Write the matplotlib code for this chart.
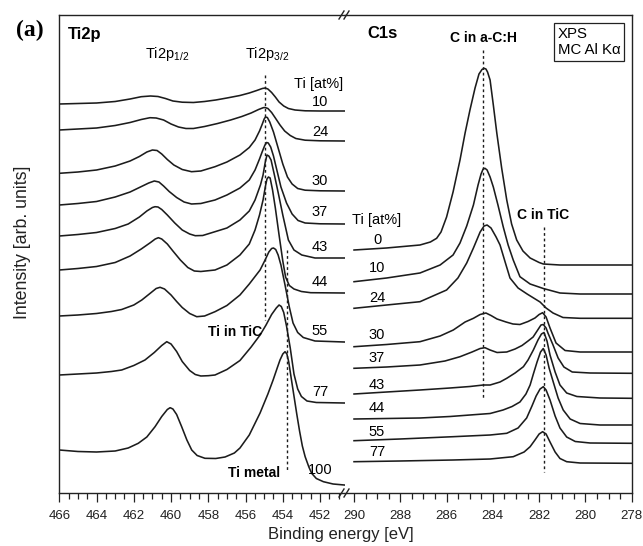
import matplotlib
matplotlib.use('Agg')
import matplotlib.pyplot as plt
from matplotlib.ticker import MultipleLocator

plt.rcParams['font.family'] = ['Liberation Sans', 'DejaVu Sans']
plt.rcParams['mathtext.fontset'] = 'custom'
plt.rcParams['mathtext.rm'] = 'Liberation Sans'
plt.rcParams['mathtext.bf'] = 'Liberation Sans:bold'

# ---------------- data: Ti2p spectra (binding energy eV, intensity arb. units) ----------------
ti_levels = ['10', '24', '30', '37', '43', '44', '55', '77', '100']

ti2p_10_ev = [466.0, 465.0, 464.0, 463.0, 462.2, 461.6, 461.1, 460.7, 460.3, 459.9, 459.4, 458.8, 458.2, 457.6, 457.0, 456.3, 455.8, 455.4, 455.1, 454.95, 454.8, 454.6, 454.4, 454.2, 453.95, 453.7, 453.34, 452.8, 452.0, 450.7]
ti2p_10_int = [389, 389.5, 390, 391.5, 394, 396.3, 397, 396.5, 394.5, 392, 390.8, 390.5, 391.5, 393, 395, 397.5, 400, 402.5, 404.5, 405, 404, 400.5, 396, 391, 387, 384.5, 383, 382.2, 382, 382]

ti2p_24_ev = [466.0, 465.0, 464.0, 463.0, 462.2, 461.6, 461.13, 460.8, 460.4, 460.0, 459.6, 459.2, 458.8, 458.2, 457.5, 456.8, 456.2, 455.7, 455.3, 455.05, 454.95, 454.8, 454.6, 454.4, 454.15, 453.9, 453.6, 453.3, 452.8, 452.0, 450.7]
ti2p_24_int = [363, 364, 365, 367.5, 370.5, 373.5, 375.3, 375, 373, 369, 366, 364.5, 364.5, 366.5, 369.5, 373, 376.5, 380, 383.5, 385.3, 385.5, 384.5, 380.5, 375, 368, 362, 357.5, 354.5, 352.8, 352.2, 352]

ti2p_30_ev = [466.0, 465.0, 464.0, 463.0, 462.2, 461.7, 461.3, 461.0, 460.75, 460.5, 460.2, 459.85, 459.4, 458.9, 458.4, 457.64, 457.0, 456.3, 455.8, 455.49, 455.25, 455.1, 455.0, 454.93, 454.83, 454.7, 454.5, 454.25, 454.0, 453.75, 453.5, 453.2, 452.8, 452.0, 450.7]
ti2p_30_int = [319.7, 321, 323, 327, 332, 336.5, 341, 343, 342.5, 339, 333.5, 328, 323.5, 321.3, 322, 326.3, 331, 338, 345.5, 353, 362, 369, 374, 376, 375.5, 371, 361, 345, 329, 316, 309, 304.5, 302.8, 302.2, 302]

ti2p_37_ev = [466.0, 465.0, 464.0, 463.0, 462.2, 461.7, 461.2, 460.9, 460.65, 460.4, 460.1, 459.7, 459.3, 458.9, 458.4, 457.64, 457.0, 456.3, 455.8, 455.49, 455.25, 455.1, 454.97, 454.87, 454.78, 454.65, 454.5, 454.32, 454.1, 453.8, 453.5, 453.18, 452.8, 452.0, 450.7]
ti2p_37_int = [288, 289.5, 291.5, 296, 301, 305.5, 310, 312, 311, 307, 301.5, 295.5, 291, 289, 289.5, 293, 298, 305, 313, 323, 334, 341.5, 347.5, 350.5, 350, 346, 337, 323, 306, 290, 279, 272.5, 270, 269.2, 269]

ti2p_43_ev = [466.0, 465.0, 464.0, 463.0, 462.3, 461.7, 461.3, 461.0, 460.86, 460.7, 460.5, 460.2, 459.8, 459.4, 459.0, 458.7, 458.3, 457.64, 457.0, 456.3, 455.8, 455.49, 455.2, 455.06, 454.95, 454.85, 454.75, 454.63, 454.45, 454.24, 454.0, 453.7, 453.4, 452.98, 452.27, 450.7]
ti2p_43_int = [257, 258.5, 260.5, 264.5, 269, 276, 282, 285.5, 286.3, 286, 283.5, 278, 270, 263, 259, 257.3, 257.5, 261.3, 265, 273, 282, 293, 308, 318, 330, 338, 337, 333, 318, 299.7, 278, 253, 243, 238, 235, 235]

ti2p_44_ev = [466.0, 465.0, 464.0, 463.0, 462.2, 461.6, 461.1, 460.85, 460.68, 460.5, 460.2, 459.9, 459.5, 459.1, 458.75, 458.4, 457.64, 457.0, 456.3, 455.8, 455.49, 455.25, 455.06, 454.93, 454.85, 454.77, 454.68, 454.55, 454.4, 454.2, 454.0, 453.85, 453.65, 453.4, 453.0, 452.5, 450.7]
ti2p_44_int = [223, 224.5, 226.5, 230.5, 237, 244, 250.5, 254, 255.3, 254, 249, 242, 233, 225.5, 222, 221.5, 223, 228, 238, 249, 263, 278, 293, 307, 314, 316, 315, 303, 285, 258, 232, 216, 207.5, 204, 201.5, 200.3, 200]

ti2p_55_ev = [466.0, 465.0, 464.0, 463.2, 462.65, 462.0, 461.57, 461.1, 460.8, 460.59, 460.35, 460.0, 459.7, 459.4, 459.0, 458.62, 458.2, 457.64, 457.0, 456.3, 455.8, 455.22, 454.95, 454.75, 454.6, 454.5, 454.38, 454.25, 454.1, 453.88, 453.65, 453.45, 453.2, 452.9, 452.27, 450.7]
ti2p_55_int = [177, 178, 179.5, 181.5, 183.5, 188, 193, 200, 204.5, 205.7, 204, 198, 191.5, 185.5, 179.5, 176.3, 177, 181.3, 187.5, 198, 209, 223, 233, 241, 244.5, 245, 243.5, 238, 228, 208, 186, 170, 160.5, 155.5, 152, 151]

ti2p_77_ev = [466.0, 465.0, 464.0, 463.2, 462.65, 462.0, 461.4, 460.9, 460.5, 460.23, 460.0, 459.7, 459.4, 459.0, 458.7, 458.4, 458.0, 457.64, 457.0, 456.3, 455.7, 455.22, 454.9, 454.6, 454.35, 454.2, 454.08, 453.95, 453.8, 453.6, 453.4, 453.2, 453.0, 452.7, 452.2, 450.7]
ti2p_77_int = [118, 119, 120, 121.5, 123, 127.5, 133, 140.5, 147.5, 151.3, 149, 141.5, 131.5, 122.5, 118.5, 117, 117.3, 118, 123.5, 132.5, 146, 158, 168, 178.5, 185, 188, 186.5, 180.5, 167, 145, 119, 104, 96.5, 92, 90.5, 90]

ti2p_100_ev = [466.0, 465.0, 464.0, 463.0, 462.3, 461.76, 461.3, 460.86, 460.5, 460.2, 460.05, 459.9, 459.7, 459.43, 459.15, 458.89, 458.6, 458.18, 457.6, 457.1, 456.6, 456.3, 455.8, 455.22, 454.8, 454.52, 454.3, 454.15, 454.0, 453.88, 453.78, 453.68, 453.55, 453.4, 453.25, 453.1, 452.95, 452.8, 452.6, 452.45, 452.2, 451.82, 451.3, 450.7]
ti2p_100_int = [43, 41.5, 41, 42, 45, 49.7, 56, 66.3, 76.5, 83.5, 85.3, 84, 78.5, 66.3, 53, 43, 37.5, 34.7, 34.5, 36, 40, 45, 58, 80, 99, 113, 125, 133, 139, 141.3, 139, 131, 115, 97, 79, 62, 47, 36.3, 26, 19.7, 14.5, 11.3, 9, 8]

# ---------------- data: C1s spectra ----------------
c_levels = ['0', '10', '24', '30', '37', '43', '44', '55', '77']

c1s_0_ev = [290.0, 288.6, 287.15, 286.7, 286.43, 286.24, 286.0, 285.72, 285.42, 285.2, 284.99, 284.77, 284.6, 284.47, 284.38, 284.3, 284.23, 284.12, 283.98, 283.83, 283.62, 283.40, 283.19, 282.97, 282.7, 282.39, 282.0, 281.82, 281.1, 278.0]
c1s_0_int = [243, 245, 248, 251, 254.7, 261, 276, 301, 333, 360, 383, 405, 419, 423.5, 424.7, 424, 421, 413, 388, 360, 325, 293, 269, 253, 242, 235, 230.5, 229, 228, 228]

c1s_10_ev = [290.0, 288.59, 287.15, 286.28, 285.72, 285.42, 285.13, 284.84, 284.64, 284.51, 284.42, 284.34, 284.25, 284.12, 283.98, 283.78, 283.55, 283.34, 283.12, 282.83, 282.39, 281.82, 281.1, 280.23, 278.0]
c1s_10_int = [211.3, 215, 220, 228, 238, 250, 267, 288, 308, 319, 324, 324.7, 323, 316, 306, 288, 266, 248, 233, 216.3, 209, 204.5, 200, 199, 199]

c1s_24_ev = [290.0, 288.59, 287.15, 286.0, 285.51, 285.13, 284.84, 284.55, 284.38, 284.25, 284.08, 283.86, 283.69, 283.47, 283.26, 282.91, 282.52, 281.96, 281.70, 281.40, 280.97, 280.23, 278.0]
c1s_24_int = [184.7, 188, 191.3, 203, 215, 230, 245, 261, 267, 268, 265, 256, 248, 231, 215, 205, 199, 191, 185, 180, 175.5, 174.7, 174.7]

c1s_30_ev = [290.0, 288.59, 287.15, 286.28, 285.71, 285.2, 284.84, 284.55, 284.3, 284.08, 283.82, 283.43, 283.13, 282.83, 282.48, 282.18, 282.0, 281.85, 281.70, 281.53, 281.27, 280.88, 280.23, 278.0]
c1s_30_int = [146.3, 148.5, 151.3, 157, 163, 171, 174.7, 178.5, 180, 177.5, 174, 171, 169, 168.5, 171.5, 175, 178.5, 180.3, 176, 165, 150, 142.5, 141, 141]

c1s_37_ev = [290.0, 288.59, 287.15, 286.07, 285.42, 284.9, 284.55, 284.34, 284.12, 283.82, 283.40, 283.04, 282.74, 282.48, 282.26, 282.09, 281.92, 281.82, 281.70, 281.62, 281.40, 281.18, 280.93, 280.57, 279.8, 278.0]
c1s_37_int = [124.7, 126, 128, 132, 136.3, 141, 144.5, 145.3, 143, 140.5, 141, 144, 147.5, 152, 156, 162, 168, 168.5, 165, 160, 148, 135, 126, 121, 120, 119.7]

c1s_43_ev = [290.0, 288.59, 287.15, 285.85, 284.99, 284.41, 284.12, 283.69, 283.40, 283.04, 282.68, 282.48, 282.25, 282.05, 281.90, 281.79, 281.66, 281.53, 281.31, 281.1, 280.81, 280.37, 279.37, 278.0]
c1s_43_int = [99, 101, 103, 105, 106.5, 108, 108, 111, 114.7, 120, 126.3, 133, 143, 153, 159, 160.5, 152, 138, 121, 108, 100, 96.5, 95, 94.7]

c1s_44_ev = [290.0, 288.59, 287.15, 285.85, 284.99, 284.12, 283.56, 283.17, 282.83, 282.57, 282.39, 282.25, 282.09, 281.94, 281.82, 281.70, 281.57, 281.39, 281.18, 280.96, 280.66, 280.23, 279.37, 278.0]
c1s_44_int = [74, 74.5, 75, 76.5, 78, 79.5, 83, 86.5, 91, 99, 108, 119, 131, 141, 144.5, 138, 125, 111, 95, 83, 74, 69.5, 68, 68]

c1s_55_ev = [290.0, 288.01, 285.72, 284.12, 283.40, 282.91, 282.54, 282.31, 282.13, 281.96, 281.82, 281.70, 281.53, 281.31, 281.10, 280.81, 280.44, 279.8, 278.0]
c1s_55_int = [52.3, 54, 56.3, 58, 59.7, 65, 75, 87, 97, 104, 106.3, 103, 93, 77, 65, 56, 51.5, 50, 49.7]

c1s_77_ev = [290.0, 288.01, 285.72, 284.12, 283.12, 282.65, 282.39, 282.18, 282.0, 281.85, 281.70, 281.53, 281.31, 281.1, 280.81, 280.23, 278.0]
c1s_77_int = [31.3, 32, 33, 34, 36.3, 41, 46.3, 53, 59, 61.3, 59, 51, 41, 34.5, 31.3, 30, 29.7]

# reference lines (energy, intensity from, intensity to)
ti2p32_line = [454.93, 418, 173]
ti_metal_line = [453.8, 243, 23]
c_ach_line = [284.41, 443, 93]
c_tic_line = [281.8, 266, 21]

ti_curves = [(ti2p_10_ev, ti2p_10_int), (ti2p_24_ev, ti2p_24_int), (ti2p_30_ev, ti2p_30_int),
             (ti2p_37_ev, ti2p_37_int), (ti2p_43_ev, ti2p_43_int), (ti2p_44_ev, ti2p_44_int),
             (ti2p_55_ev, ti2p_55_int), (ti2p_77_ev, ti2p_77_int), (ti2p_100_ev, ti2p_100_int)]
c_curves = [(c1s_0_ev, c1s_0_int), (c1s_10_ev, c1s_10_int), (c1s_24_ev, c1s_24_int),
            (c1s_30_ev, c1s_30_int), (c1s_37_ev, c1s_37_int), (c1s_43_ev, c1s_43_int),
            (c1s_44_ev, c1s_44_int), (c1s_55_ev, c1s_55_int), (c1s_77_ev, c1s_77_int)]

# ---------------- layout ----------------
W, H = 643, 546
fig = plt.figure(figsize=(W / 100, H / 100), dpi=100)


def fx(x):
    return x / W


def fy(y):
    return 1 - y / H


X0, XB, X1, Y0, Y1 = 59.3, 345.0, 631.7, 15.0, 493.0
axL = fig.add_axes([fx(X0), fy(Y1), (XB - X0) / W, (Y1 - Y0) / H])
axR = fig.add_axes([fx(XB), fy(Y1), (X1 - XB) / W, (Y1 - Y0) / H])

LC = '#1c1c1c'
for ax in (axL, axR):
    ax.set_ylim(0, 478)
    ax.set_yticks([])
    for s in ax.spines.values():
        s.set_linewidth(1.0)
        s.set_color('#222222')
    ax.tick_params(axis='x', which='major', direction='out', length=6.5, width=0.9,
                   labelsize=9.5, pad=6, colors='#222222')
    ax.tick_params(axis='x', which='minor', direction='out', length=4.2, width=0.9, colors='#222222')
    ax.xaxis.set_major_locator(MultipleLocator(2))
    ax.xaxis.set_minor_locator(MultipleLocator(0.5))

axL.set_xlim(466, 450.66)
axR.set_xlim(290.39, 278)
axL.spines['right'].set_visible(False)
axR.spines['left'].set_visible(False)

for ev, it in ti_curves:
    axL.plot(ev, it, color=LC, lw=1.15, solid_joinstyle='round')
for ev, it in c_curves:
    axR.plot(ev, it, color=LC, lw=1.15, solid_joinstyle='round')

dot = (0, (2.0, 2.0))
axL.plot([ti2p32_line[0]] * 2, ti2p32_line[1:], color=LC, lw=1.0, ls=dot)
axL.plot([ti_metal_line[0]] * 2, ti_metal_line[1:], color=LC, lw=1.0, ls=dot)
axR.plot([c_ach_line[0]] * 2, c_ach_line[1:], color=LC, lw=1.0, ls=dot)
axR.plot([c_tic_line[0]] * 2, c_tic_line[1:], color=LC, lw=1.0, ls=dot)

# axis break marks
for yb in (Y0, Y1):
    for dx in (-3.5, 1.5):
        fig.add_artist(plt.Line2D([fx(XB + dx - 2.5), fx(XB + dx + 2.5)], [fy(yb + 4), fy(yb - 4)],
                                  color='#222222', lw=1.0))

# ---------------- texts ----------------
fig.text(fx(30), fy(30), '(a)', family='Liberation Serif', fontweight='bold', fontsize=17,
         ha='center', va='center')
fig.text(fx(68), fy(35), 'Ti2p', fontweight='bold', fontsize=12, ha='left', va='center')
fig.text(fx(167), fy(54), r'Ti2p$_{\mathregular{1/2}}$', fontsize=10.5, ha='center', va='center')
fig.text(fx(267), fy(54), r'Ti2p$_{\mathregular{3/2}}$', fontsize=10.5, ha='center', va='center')
fig.text(fx(319), fy(84), 'Ti [at%]', fontsize=10.5, ha='center', va='center')

ti_label_y = [101.5, 131.5, 181.5, 212.5, 247, 282, 331, 391.5, 469.5]
for lab, yy in zip(ti_levels, ti_label_y):
    fig.text(fx(320), fy(yy), lab, fontsize=10.5, ha='center', va='center')

fig.text(fx(235), fy(332), 'Ti in TiC', fontweight='bold', fontsize=10, ha='center', va='center')
fig.text(fx(254), fy(473), 'Ti metal', fontweight='bold', fontsize=10, ha='center', va='center')

fig.text(fx(367), fy(33), 'C1s', fontweight='bold', fontsize=12, ha='left', va='center')
fig.text(fx(483.5), fy(38), 'C in a-C:H', fontweight='bold', fontsize=10, ha='center', va='center')
fig.text(fx(543), fy(215), 'C in TiC', fontweight='bold', fontsize=10, ha='center', va='center')
fig.text(fx(377), fy(220), 'Ti [at%]', fontsize=10.5, ha='center', va='center')
c_label_y = [240, 268, 298, 335, 358, 385, 408, 431.5, 451.5]
for lab, yy in zip(c_levels, c_label_y):
    fig.text(fx(377), fy(yy), lab, fontsize=10.5, ha='center', va='center')

fig.text(fx(558), fy(27), 'XPS\nMC Al Kα', fontsize=10.8, ha='left', va='top', linespacing=1.2,
         bbox=dict(boxstyle='square,pad=0.25', fc='white', ec='#222222', lw=0.9))

fig.text(fx(23), fy(242), 'Intensity [arb. units]', fontsize=12.8, rotation=90,
         ha='center', va='center', color='#222222')
fig.text(fx(341), fy(535), 'Binding energy [eV]', fontsize=12, ha='center', va='center',
         color='#222222')

fig.savefig('out.png', dpi=100)
